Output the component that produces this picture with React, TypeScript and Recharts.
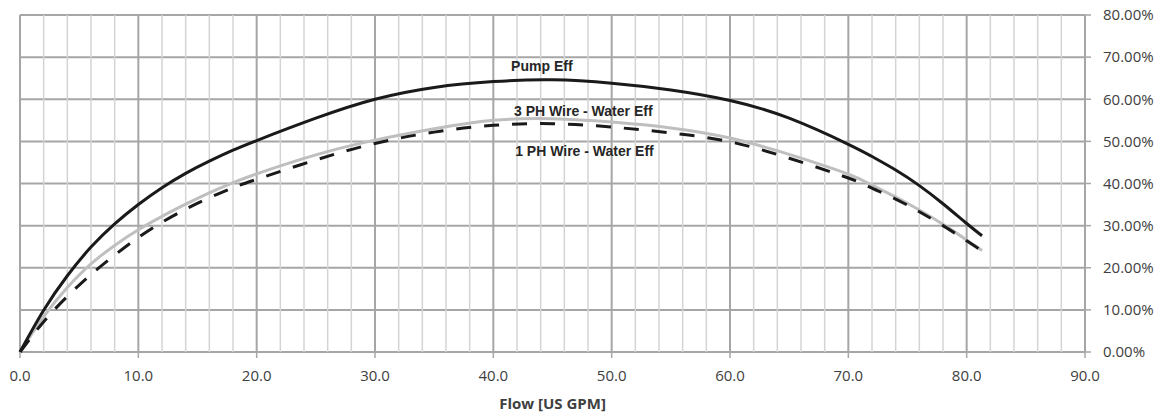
import { LineChart, Line, XAxis, YAxis, CartesianGrid, ReferenceLine, ReferenceDot, Label } from 'recharts';

const flow = [0, 2, 4, 6, 8, 10, 12, 14, 16, 18, 20, 25, 30, 35, 40, 45, 50, 55, 60, 65, 70, 72, 74, 76, 78, 80, 81.3];
const pumpEff = [0, 9.9, 18.1, 24.9, 30.4, 35.0, 39.0, 42.4, 45.3, 47.9, 50.2, 55.5, 60, 62.8, 64.2, 64.6, 63.8, 62.2, 59.7, 55.5, 49.3, 46.4, 43.2, 39.5, 35.2, 30.5, 27.6];
const eff3ph = [0, 8.4, 15.3, 20.9, 25.3, 29.0, 32.2, 35.1, 37.8, 40.2, 42.3, 46.8, 50.3, 53, 55, 55.4, 54.6, 53.2, 50.8, 46.9, 42.2, 39.6, 36.8, 33.7, 30.3, 26.6, 24.1];
const eff1ph = [0, 7.2, 13.2, 18.4, 23.0, 27.2, 30.8, 33.9, 36.6, 39.0, 41.0, 45.6, 49.5, 52.2, 53.8, 54.2, 53.4, 52, 49.9, 46.0, 41.3, 38.9, 36.3, 33.3, 30.0, 26.4, 24.0];

const xTicks = [0, 10, 20, 30, 40, 50, 60, 70, 80, 90];
const xMinor = [2, 4, 6, 8, 12, 14, 16, 18, 22, 24, 26, 28, 32, 34, 36, 38, 42, 44, 46, 48, 52, 54, 56, 58, 62, 64, 66, 68, 72, 74, 76, 78, 82, 84, 86, 88];
const yTicks = [0, 10, 20, 30, 40, 50, 60, 70, 80];

// series labels: [text, flow, eff]
const seriesLabels: [string, number, number][] = [
  ['Pump Eff', 44.1, 67.8],
  ['3 PH Wire - Water Eff', 47.6, 57.2],
  ['1 PH Wire - Water Eff', 47.7, 47.6],
];

const data = flow.map((f, i) => ({ flow: f, pump: pumpEff[i], ph3: eff3ph[i], ph1: eff1ph[i] }));

const tickFont = { fontFamily: 'Open Sans', fontSize: 15, fill: '#404040' };

export default function App() {
  return (
    <div style={{ position: 'absolute', left: 0, top: 0, width: 1167, height: 414, background: '#fff' }}>
      <LineChart width={1167} height={414} data={data} margin={{ top: 15, right: 0, left: 20, bottom: 0 }}>
        {xMinor.map((x) => (
          <ReferenceLine key={'m' + x} x={x} stroke="#d4d4d4" strokeWidth={1.5} />
        ))}
        <CartesianGrid vertical={false} stroke="#a6a6a6" strokeWidth={2} />
        {xTicks.map((x) => (
          <ReferenceLine key={'M' + x} x={x} stroke="#a6a6a6" strokeWidth={2} />
        ))}
        <XAxis
          dataKey="flow"
          type="number"
          domain={[0, 90]}
          ticks={xTicks}
          tickFormatter={(v: number) => v.toFixed(1)}
          axisLine={false}
          tickLine={{ stroke: '#a6a6a6', strokeWidth: 1.5 }}
          tickSize={6}
          tickMargin={12}
          tick={tickFont}
          height={62}
          interval={0}
        >
          <Label
            value="Flow [US GPM]"
            position="insideBottom"
            offset={5}
            style={{ fontFamily: 'Open Sans', fontSize: 15, fontWeight: 'bold', fill: '#404040' }}
          />
        </XAxis>
        <YAxis
          orientation="right"
          type="number"
          domain={[0, 80]}
          ticks={yTicks}
          tickFormatter={(v: number) => `${v.toFixed(2)}%`}
          axisLine={false}
          tickLine={{ stroke: '#a6a6a6', strokeWidth: 1.5 }}
          tickSize={6}
          tickMargin={12}
          tick={{ ...tickFont, textAnchor: 'start' }}
          width={82}
          interval={0}
        />
        <Line type="natural" dataKey="ph3" stroke="#bfbfbf" strokeWidth={3} dot={false} isAnimationActive={false} />
        <Line type="natural" dataKey="ph1" stroke="#1a1a1a" strokeWidth={3} strokeDasharray="15 13" dot={false} isAnimationActive={false} />
        <Line type="natural" dataKey="pump" stroke="#1a1a1a" strokeWidth={3} dot={false} isAnimationActive={false} />
        {seriesLabels.map(([text, x, y]) => (
          <ReferenceDot key={text} x={x} y={y} r={1} fill="none" stroke="none">
            <Label
              value={text}
              position="center"
              style={{ fontFamily: 'Liberation Sans', fontSize: 14, fontWeight: 'bold', fill: '#262626' }}
            />
          </ReferenceDot>
        ))}
      </LineChart>
    </div>
  );
}
